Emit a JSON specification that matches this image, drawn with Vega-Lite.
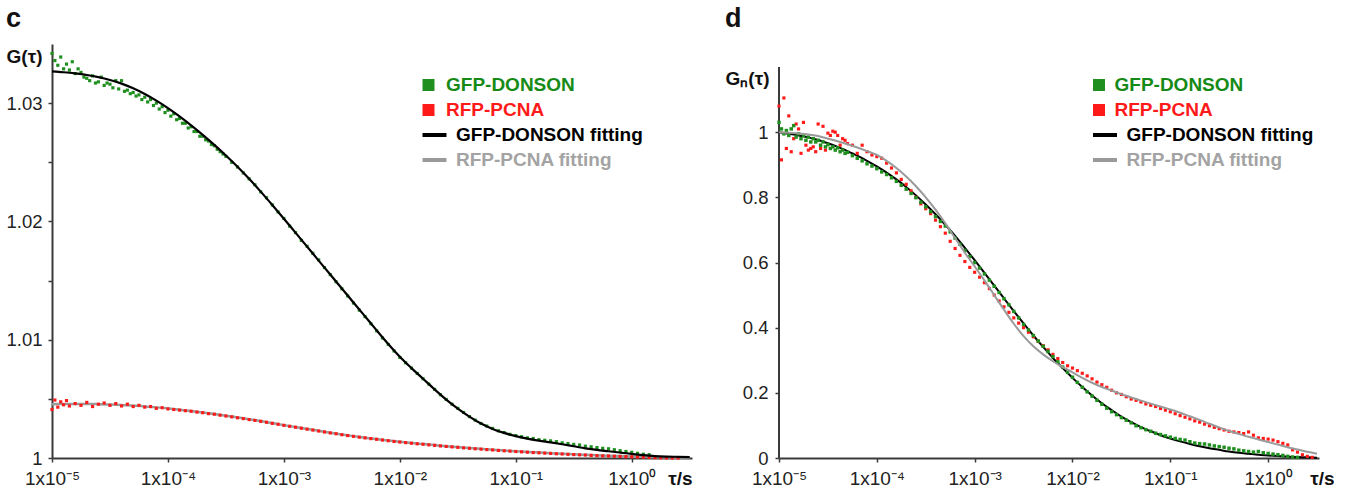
{
  "$schema": "https://vega.github.io/schema/vega-lite/v6.json",
  "background": "white",
  "padding": {"left": 5, "top": 5, "right": 0, "bottom": 0},
  "spacing": 30,
  "config": {
    "font": "Liberation Sans",
    "view": {"stroke": null},
    "axis": {"grid": false, "domainColor": "#3a3a3a", "domainWidth": 2, "tickColor": "#3a3a3a", "tickWidth": 1.5, "tickSize": 4, "labelFont": "Liberation Sans", "labelFontSize": 18.5, "labelColor": "#222222", "titleFont": "Liberation Sans", "titleFontSize": 19, "titleFontWeight": "bold", "titleColor": "#111111"},
    "title": {"font": "Liberation Sans", "fontSize": 27, "fontWeight": "bold", "color": "#111111", "anchor": "start"},
    "legend": {"labelFont": "Liberation Sans", "labelFontSize": 19, "labelFontWeight": "bold", "labelLimit": 400, "padding": 0, "symbolSize": 144, "rowPadding": 5, "labelOffset": 8}
  },
  "resolve": {"scale": {"color": "independent", "x": "independent", "y": "independent"}, "legend": {"color": "independent"}},
  "datasets": {
    "cGf": [
      {"t":1e-5,"g":1.03269},{"t":1.259e-5,"g":1.03261},{"t":1.585e-5,"g":1.03251},{"t":1.995e-5,"g":1.03238},{"t":2.512e-5,"g":1.0322},{"t":3.162e-5,"g":1.03196},{"t":3.981e-5,"g":1.03165},{"t":5.012e-5,"g":1.03125},{"t":6.31e-5,"g":1.03077},{"t":7.943e-5,"g":1.03021},
      {"t":1e-4,"g":1.02958},{"t":1.259e-4,"g":1.02888},{"t":1.585e-4,"g":1.02812},{"t":1.995e-4,"g":1.02732},{"t":2.512e-4,"g":1.02647},{"t":3.162e-4,"g":1.02557},{"t":3.981e-4,"g":1.02462},{"t":5.012e-4,"g":1.0236},{"t":6.31e-4,"g":1.02252},{"t":7.943e-4,"g":1.02139},
      {"t":1e-3,"g":1.02023},{"t":1.259e-3,"g":1.01905},{"t":1.585e-3,"g":1.01787},{"t":1.995e-3,"g":1.01669},{"t":2.512e-3,"g":1.01551},{"t":3.162e-3,"g":1.01433},{"t":3.981e-3,"g":1.01315},{"t":5.012e-3,"g":1.01197},{"t":6.31e-3,"g":1.01079},{"t":7.943e-3,"g":1.00964},
      {"t":1e-2,"g":1.00856},{"t":1.259e-2,"g":1.0076},{"t":1.585e-2,"g":1.0067},{"t":1.995e-2,"g":1.0058},{"t":2.512e-2,"g":1.00494},{"t":3.162e-2,"g":1.00418},{"t":3.981e-2,"g":1.0035},{"t":5.012e-2,"g":1.00291},{"t":6.31e-2,"g":1.00246},{"t":7.943e-2,"g":1.00212},
      {"t":0.1,"g":1.00185},{"t":0.1259,"g":1.00164},{"t":0.1585,"g":1.00147},{"t":0.1995,"g":1.00132},{"t":0.2512,"g":1.00116},{"t":0.3162,"g":1.00099},{"t":0.3981,"g":1.00082},{"t":0.5012,"g":1.00068},{"t":0.631,"g":1.00057},{"t":0.7943,"g":1.00046},
      {"t":1,"g":1.00035},{"t":1.259,"g":1.00024},{"t":1.585,"g":1.00016},{"t":1.995,"g":1.00012},{"t":2.512,"g":1.0001},{"t":3.162,"g":1.00008}
    ],
    "cRf": [
      {"t":1e-5,"g":1.00455},{"t":1.259e-5,"g":1.00456},{"t":1.585e-5,"g":1.00457},{"t":1.995e-5,"g":1.00457},{"t":2.512e-5,"g":1.00455},{"t":3.162e-5,"g":1.00452},{"t":3.981e-5,"g":1.00448},{"t":5.012e-5,"g":1.00443},{"t":6.31e-5,"g":1.00436},{"t":7.943e-5,"g":1.00428},
      {"t":1e-4,"g":1.00419},{"t":1.259e-4,"g":1.00408},{"t":1.585e-4,"g":1.00397},{"t":1.995e-4,"g":1.00385},{"t":2.512e-4,"g":1.00372},{"t":3.162e-4,"g":1.00358},{"t":3.981e-4,"g":1.00343},{"t":5.012e-4,"g":1.00328},{"t":6.31e-4,"g":1.00312},{"t":7.943e-4,"g":1.00295},
      {"t":1e-3,"g":1.00278},{"t":1.259e-3,"g":1.00262},{"t":1.585e-3,"g":1.00246},{"t":1.995e-3,"g":1.0023},{"t":2.512e-3,"g":1.00214},{"t":3.162e-3,"g":1.00199},{"t":3.981e-3,"g":1.00185},{"t":5.012e-3,"g":1.00172},{"t":6.31e-3,"g":1.0016},{"t":7.943e-3,"g":1.00148},
      {"t":1e-2,"g":1.00137},{"t":1.259e-2,"g":1.00127},{"t":1.585e-2,"g":1.00118},{"t":1.995e-2,"g":1.00109},{"t":2.512e-2,"g":1.001},{"t":3.162e-2,"g":1.00092},{"t":3.981e-2,"g":1.00084},{"t":5.012e-2,"g":1.00077},{"t":6.31e-2,"g":1.0007},{"t":7.943e-2,"g":1.00063},
      {"t":0.1,"g":1.00057},{"t":0.1259,"g":1.00051},{"t":0.1585,"g":1.00046},{"t":0.1995,"g":1.00041},{"t":0.2512,"g":1.00036},{"t":0.3162,"g":1.00031},{"t":0.3981,"g":1.00027},{"t":0.5012,"g":1.00023},{"t":0.631,"g":1.00019},{"t":0.7943,"g":1.00016},
      {"t":1,"g":1.00013},{"t":1.259,"g":1.0001},{"t":1.585,"g":1.00007},{"t":1.995,"g":1.00005},{"t":2.512,"g":1.00003},{"t":3.162,"g":1.00002}
    ],
    "cG": [
      {"t":1e-5,"g":1.0342},{"t":1.059e-5,"g":1.0336},{"t":1.122e-5,"g":1.0332},{"t":1.189e-5,"g":1.0339},{"t":1.259e-5,"g":1.0329},{"t":1.334e-5,"g":1.0333},{"t":1.413e-5,"g":1.0328},{"t":1.496e-5,"g":1.0335},{"t":1.585e-5,"g":1.0325},{"t":1.679e-5,"g":1.0329},{"t":1.778e-5,"g":1.0326},{"t":1.884e-5,"g":1.0322},
      {"t":1.995e-5,"g":1.0321},{"t":2.113e-5,"g":1.0319},{"t":2.239e-5,"g":1.0323},{"t":2.371e-5,"g":1.0317},{"t":2.512e-5,"g":1.0318},{"t":2.661e-5,"g":1.0322},{"t":2.818e-5,"g":1.0315},{"t":2.985e-5,"g":1.0317},{"t":3.162e-5,"g":1.0316},{"t":3.35e-5,"g":1.0313},
      {"t":3.548e-5,"g":1.0319},{"t":3.758e-5,"g":1.0312},{"t":3.981e-5,"g":1.0319},{"t":4.217e-5,"g":1.031},{"t":4.467e-5,"g":1.0311},{"t":4.732e-5,"g":1.0308},{"t":5.012e-5,"g":1.0309},{"t":5.309e-5,"g":1.0306},{"t":5.623e-5,"g":1.0307},{"t":5.957e-5,"g":1.0303},
      {"t":6.31e-5,"g":1.0305},{"t":6.683e-5,"g":1.0301},{"t":7.079e-5,"g":1.0303},{"t":7.499e-5,"g":1.0298},{"t":7.943e-5,"g":1.03},{"t":8.414e-5,"g":1.0295},{"t":8.913e-5,"g":1.0297},{"t":9.441e-5,"g":1.0292},{"t":1e-4,"g":1.0294},{"t":1.059e-4,"g":1.0289},
      {"t":1.122e-4,"g":1.0291},{"t":1.189e-4,"g":1.0286},{"t":1.259e-4,"g":1.0287},{"t":1.334e-4,"g":1.0283},{"t":1.413e-4,"g":1.0283},{"t":1.496e-4,"g":1.0279},{"t":1.585e-4,"g":1.028},{"t":1.679e-4,"g":1.0276},{"t":1.778e-4,"g":1.0276},{"t":1.884e-4,"g":1.0272},
      {"t":1.995e-4,"g":1.0272},{"t":2.113e-4,"g":1.0269},{"t":2.239e-4,"g":1.0268},{"t":2.371e-4,"g":1.0265},{"t":2.512e-4,"g":1.0264},{"t":2.661e-4,"g":1.0261},{"t":2.818e-4,"g":1.0259},{"t":2.985e-4,"g":1.0257},{"t":3.162e-4,"g":1.0255},
      {"t":3.548e-4,"g":1.025},{"t":3.981e-4,"g":1.0246},{"t":4.467e-4,"g":1.0241},{"t":5.012e-4,"g":1.0236},{"t":5.623e-4,"g":1.0231},{"t":6.31e-4,"g":1.0225},{"t":7.079e-4,"g":1.022},{"t":7.943e-4,"g":1.0214},{"t":8.913e-4,"g":1.0208},
      {"t":1e-3,"g":1.02025},{"t":1.122e-3,"g":1.0196},{"t":1.259e-3,"g":1.01905},{"t":1.413e-3,"g":1.0184},{"t":1.585e-3,"g":1.0179},{"t":1.778e-3,"g":1.0173},{"t":1.995e-3,"g":1.01675},{"t":2.239e-3,"g":1.0161},{"t":2.512e-3,"g":1.0155},{"t":2.818e-3,"g":1.0149},
      {"t":3.162e-3,"g":1.0143},{"t":3.548e-3,"g":1.0137},{"t":3.981e-3,"g":1.0131},{"t":4.467e-3,"g":1.0125},{"t":5.012e-3,"g":1.01195},{"t":5.623e-3,"g":1.01135},{"t":6.31e-3,"g":1.01075},{"t":7.079e-3,"g":1.01015},{"t":7.943e-3,"g":1.0096},{"t":8.913e-3,"g":1.00905},
      {"t":1e-2,"g":1.0085},{"t":1.122e-2,"g":1.00805},{"t":1.259e-2,"g":1.0076},{"t":1.413e-2,"g":1.00715},{"t":1.585e-2,"g":1.0067},{"t":1.778e-2,"g":1.00625},{"t":1.995e-2,"g":1.0058},{"t":2.239e-2,"g":1.00535},{"t":2.512e-2,"g":1.00495},{"t":2.818e-2,"g":1.00455},
      {"t":3.162e-2,"g":1.0042},{"t":3.548e-2,"g":1.00385},{"t":3.981e-2,"g":1.0035},{"t":4.467e-2,"g":1.0032},{"t":5.012e-2,"g":1.00292},{"t":5.623e-2,"g":1.0027},{"t":6.31e-2,"g":1.0025},{"t":7.079e-2,"g":1.0023},{"t":7.943e-2,"g":1.00215},{"t":8.913e-2,"g":1.002},
      {"t":0.1,"g":1.0019},{"t":0.1122,"g":1.0018},{"t":0.1259,"g":1.0017},{"t":0.1413,"g":1.00165},{"t":0.1585,"g":1.00155},{"t":0.1778,"g":1.0015},{"t":0.1995,"g":1.00145},{"t":0.2239,"g":1.00138},{"t":0.2512,"g":1.00128},{"t":0.2818,"g":1.00122},
      {"t":0.3162,"g":1.00115},{"t":0.3548,"g":1.0011},{"t":0.3981,"g":1.001},{"t":0.4467,"g":1.00095},{"t":0.5012,"g":1.00088},{"t":0.5623,"g":1.00082},{"t":0.631,"g":1.00078},{"t":0.7079,"g":1.0007},{"t":0.7943,"g":1.00062},{"t":0.8913,"g":1.00055},
      {"t":1,"g":1.00048},{"t":1.122,"g":1.0004},{"t":1.259,"g":1.00032},{"t":1.413,"g":1.00028}
    ],
    "cR": [
      {"t":1e-5,"g":1.0041},{"t":1.059e-5,"g":1.0049},{"t":1.122e-5,"g":1.0043},{"t":1.189e-5,"g":1.00475},{"t":1.259e-5,"g":1.0045},{"t":1.334e-5,"g":1.00485},{"t":1.413e-5,"g":1.0044},{"t":1.585e-5,"g":1.0046},{"t":1.778e-5,"g":1.00445},{"t":1.995e-5,"g":1.0047},
      {"t":2.239e-5,"g":1.00435},{"t":2.512e-5,"g":1.00455},{"t":2.818e-5,"g":1.00465},{"t":3.162e-5,"g":1.00445},{"t":3.548e-5,"g":1.0046},{"t":3.981e-5,"g":1.0044},{"t":4.467e-5,"g":1.00455},{"t":5.012e-5,"g":1.00435},{"t":5.623e-5,"g":1.00445},{"t":6.31e-5,"g":1.0043},
      {"t":7.079e-5,"g":1.00435},{"t":7.943e-5,"g":1.0042},{"t":8.913e-5,"g":1.00425},{"t":1e-4,"g":1.00415},{"t":1.122e-4,"g":1.0041},{"t":1.259e-4,"g":1.00405},{"t":1.413e-4,"g":1.004},{"t":1.585e-4,"g":1.00395},{"t":1.778e-4,"g":1.00388},{"t":1.995e-4,"g":1.00383},
      {"t":2.239e-4,"g":1.00375},{"t":2.512e-4,"g":1.0037},{"t":2.818e-4,"g":1.00362},{"t":3.162e-4,"g":1.00355},{"t":3.548e-4,"g":1.00348},{"t":3.981e-4,"g":1.0034},{"t":4.467e-4,"g":1.00333},{"t":5.012e-4,"g":1.00325},{"t":5.623e-4,"g":1.00318},{"t":6.31e-4,"g":1.0031},
      {"t":7.079e-4,"g":1.00302},{"t":7.943e-4,"g":1.00293},{"t":8.913e-4,"g":1.00285},{"t":1e-3,"g":1.00276},{"t":1.122e-3,"g":1.00268},{"t":1.259e-3,"g":1.0026},{"t":1.413e-3,"g":1.00252},{"t":1.585e-3,"g":1.00244},{"t":1.778e-3,"g":1.00236},{"t":1.995e-3,"g":1.00228},
      {"t":2.239e-3,"g":1.0022},{"t":2.512e-3,"g":1.00212},{"t":2.818e-3,"g":1.00205},{"t":3.162e-3,"g":1.00197},{"t":3.548e-3,"g":1.0019},{"t":3.981e-3,"g":1.00183},{"t":4.467e-3,"g":1.00176},{"t":5.012e-3,"g":1.0017},{"t":5.623e-3,"g":1.00164},{"t":6.31e-3,"g":1.00158},
      {"t":7.079e-3,"g":1.00152},{"t":7.943e-3,"g":1.00146},{"t":8.913e-3,"g":1.0014},{"t":1e-2,"g":1.00135},{"t":1.122e-2,"g":1.0013},{"t":1.259e-2,"g":1.00125},{"t":1.413e-2,"g":1.0012},{"t":1.585e-2,"g":1.00116},{"t":1.778e-2,"g":1.00111},{"t":1.995e-2,"g":1.00107},
      {"t":2.239e-2,"g":1.00102},{"t":2.512e-2,"g":1.00098},{"t":2.818e-2,"g":1.00094},{"t":3.162e-2,"g":1.0009},{"t":3.548e-2,"g":1.00086},{"t":3.981e-2,"g":1.00082},{"t":4.467e-2,"g":1.00078},{"t":5.012e-2,"g":1.00075},{"t":5.623e-2,"g":1.00071},{"t":6.31e-2,"g":1.00068},
      {"t":7.079e-2,"g":1.00064},{"t":7.943e-2,"g":1.00061},{"t":8.913e-2,"g":1.00058},{"t":0.1,"g":1.00055},{"t":0.1122,"g":1.00052},{"t":0.1259,"g":1.00049},{"t":0.1413,"g":1.00046},{"t":0.1585,"g":1.00044},{"t":0.1778,"g":1.00041},{"t":0.1995,"g":1.00039},
      {"t":0.2239,"g":1.00036},{"t":0.2512,"g":1.00034},{"t":0.2818,"g":1.00031},{"t":0.3162,"g":1.00029},{"t":0.3548,"g":1.00027},{"t":0.3981,"g":1.00025},{"t":0.4467,"g":1.00022},{"t":0.5012,"g":1.0002},{"t":0.5623,"g":1.00018},{"t":0.631,"g":1.00017},
      {"t":0.7079,"g":1.00015},{"t":0.7943,"g":1.00013},{"t":0.8913,"g":1.00011},{"t":1,"g":1.0001},{"t":1.122,"g":1.00008},{"t":1.259,"g":1.00006},{"t":1.413,"g":1.00005},{"t":1.585,"g":1.00003},{"t":1.778,"g":1.00002},{"t":1.995,"g":1.00001},{"t":2.239,"g":1.0},{"t":2.512,"g":1.0}
    ],
    "dGf": [
      {"t":1e-5,"g":1.0},{"t":1.259e-5,"g":0.995},{"t":1.585e-5,"g":0.99},{"t":1.995e-5,"g":0.984},{"t":2.512e-5,"g":0.976},{"t":3.162e-5,"g":0.966},{"t":3.981e-5,"g":0.955},{"t":5.012e-5,"g":0.942},{"t":6.31e-5,"g":0.928},{"t":7.943e-5,"g":0.912},
      {"t":1e-4,"g":0.895},{"t":1.259e-4,"g":0.876},{"t":1.585e-4,"g":0.855},{"t":1.995e-4,"g":0.832},{"t":2.512e-4,"g":0.806},{"t":3.162e-4,"g":0.778},{"t":3.981e-4,"g":0.748},{"t":5.012e-4,"g":0.716},{"t":6.31e-4,"g":0.682},{"t":7.943e-4,"g":0.645},
      {"t":1e-3,"g":0.607},{"t":1.259e-3,"g":0.568},{"t":1.585e-3,"g":0.529},{"t":1.995e-3,"g":0.49},{"t":2.512e-3,"g":0.451},{"t":3.162e-3,"g":0.413},{"t":3.981e-3,"g":0.376},{"t":5.012e-3,"g":0.341},{"t":6.31e-3,"g":0.307},{"t":7.943e-3,"g":0.276},
      {"t":1e-2,"g":0.246},{"t":1.259e-2,"g":0.218},{"t":1.585e-2,"g":0.192},{"t":1.995e-2,"g":0.168},{"t":2.512e-2,"g":0.147},{"t":3.162e-2,"g":0.127},{"t":3.981e-2,"g":0.11},{"t":5.012e-2,"g":0.095},{"t":6.31e-2,"g":0.082},{"t":7.943e-2,"g":0.07},
      {"t":0.1,"g":0.06},{"t":0.1259,"g":0.051},{"t":0.1585,"g":0.043},{"t":0.1995,"g":0.036},{"t":0.2512,"g":0.03},{"t":0.3162,"g":0.025},{"t":0.3981,"g":0.02},{"t":0.5012,"g":0.016},{"t":0.631,"g":0.013},{"t":0.7943,"g":0.01},
      {"t":1,"g":0.008},{"t":1.259,"g":0.006},{"t":1.585,"g":0.004},{"t":1.995,"g":0.003},{"t":2.512,"g":0.002},{"t":3.162,"g":0.001}
    ],
    "dRf": [
      {"t":1e-5,"g":1.0},{"t":1.259e-5,"g":0.998},{"t":1.585e-5,"g":0.996},{"t":1.995e-5,"g":0.993},{"t":2.512e-5,"g":0.988},{"t":3.162e-5,"g":0.98},{"t":3.981e-5,"g":0.972},{"t":5.012e-5,"g":0.963},{"t":6.31e-5,"g":0.953},{"t":7.943e-5,"g":0.942},
      {"t":1e-4,"g":0.93},{"t":1.259e-4,"g":0.912},{"t":1.585e-4,"g":0.89},{"t":1.995e-4,"g":0.864},{"t":2.512e-4,"g":0.834},{"t":3.162e-4,"g":0.8},{"t":3.981e-4,"g":0.762},{"t":5.012e-4,"g":0.72},{"t":6.31e-4,"g":0.675},{"t":7.943e-4,"g":0.63},
      {"t":1e-3,"g":0.588},{"t":1.259e-3,"g":0.545},{"t":1.585e-3,"g":0.5},{"t":1.995e-3,"g":0.455},{"t":2.512e-3,"g":0.412},{"t":3.162e-3,"g":0.374},{"t":3.981e-3,"g":0.343},{"t":5.012e-3,"g":0.318},{"t":6.31e-3,"g":0.297},{"t":7.943e-3,"g":0.279},
      {"t":1e-2,"g":0.263},{"t":1.259e-2,"g":0.246},{"t":1.585e-2,"g":0.231},{"t":1.995e-2,"g":0.218},{"t":2.512e-2,"g":0.207},{"t":3.162e-2,"g":0.196},{"t":3.981e-2,"g":0.186},{"t":5.012e-2,"g":0.176},{"t":6.31e-2,"g":0.167},{"t":7.943e-2,"g":0.158},
      {"t":0.1,"g":0.149},{"t":0.1259,"g":0.139},{"t":0.1585,"g":0.128},{"t":0.1995,"g":0.117},{"t":0.2512,"g":0.105},{"t":0.3162,"g":0.094},{"t":0.3981,"g":0.083},{"t":0.5012,"g":0.074},{"t":0.631,"g":0.065},{"t":0.7943,"g":0.057},
      {"t":1,"g":0.049},{"t":1.259,"g":0.041},{"t":1.585,"g":0.033},{"t":1.995,"g":0.026},{"t":2.512,"g":0.019},{"t":3.162,"g":0.013}
    ],
    "dG": [
      {"t":1e-5,"g":1.03},{"t":1.059e-5,"g":1.01},{"t":1.122e-5,"g":0.995},{"t":1.189e-5,"g":1.005},{"t":1.259e-5,"g":0.99},{"t":1.334e-5,"g":1.01},{"t":1.413e-5,"g":1.02},{"t":1.496e-5,"g":0.985},{"t":1.585e-5,"g":0.995},{"t":1.679e-5,"g":0.98},
      {"t":1.778e-5,"g":0.99},{"t":1.884e-5,"g":0.975},{"t":1.995e-5,"g":0.985},{"t":2.113e-5,"g":0.97},{"t":2.239e-5,"g":0.98},{"t":2.371e-5,"g":0.97},{"t":2.512e-5,"g":0.975},{"t":2.661e-5,"g":0.96},{"t":2.818e-5,"g":0.97},{"t":2.985e-5,"g":0.955},
      {"t":3.162e-5,"g":0.962},{"t":3.35e-5,"g":0.95},{"t":3.548e-5,"g":0.955},{"t":3.758e-5,"g":0.945},{"t":3.981e-5,"g":0.952},{"t":4.217e-5,"g":0.94},{"t":4.467e-5,"g":0.945},{"t":4.732e-5,"g":0.935},{"t":5.012e-5,"g":0.938},{"t":5.623e-5,"g":0.928},
      {"t":6.31e-5,"g":0.92},{"t":7.079e-5,"g":0.912},{"t":7.943e-5,"g":0.903},{"t":8.913e-5,"g":0.896},{"t":1e-4,"g":0.888},{"t":1.122e-4,"g":0.878},{"t":1.259e-4,"g":0.87},{"t":1.413e-4,"g":0.86},{"t":1.585e-4,"g":0.849},{"t":1.778e-4,"g":0.837},
      {"t":1.995e-4,"g":0.825},{"t":2.239e-4,"g":0.812},{"t":2.512e-4,"g":0.799},{"t":2.818e-4,"g":0.785},{"t":3.162e-4,"g":0.771},{"t":3.548e-4,"g":0.756},{"t":3.981e-4,"g":0.741},{"t":4.467e-4,"g":0.726},{"t":5.012e-4,"g":0.712},{"t":5.623e-4,"g":0.694},
      {"t":6.31e-4,"g":0.675},{"t":7.079e-4,"g":0.656},{"t":7.943e-4,"g":0.637},{"t":8.913e-4,"g":0.618},{"t":1e-3,"g":0.6},{"t":1.122e-3,"g":0.583},{"t":1.259e-3,"g":0.565},{"t":1.413e-3,"g":0.546},{"t":1.585e-3,"g":0.527},{"t":1.778e-3,"g":0.508},
      {"t":1.995e-3,"g":0.489},{"t":2.239e-3,"g":0.47},{"t":2.512e-3,"g":0.45},{"t":2.818e-3,"g":0.43},{"t":3.162e-3,"g":0.41},{"t":3.548e-3,"g":0.393},{"t":3.981e-3,"g":0.376},{"t":4.467e-3,"g":0.359},{"t":5.012e-3,"g":0.343},{"t":5.623e-3,"g":0.327},
      {"t":6.31e-3,"g":0.311},{"t":7.079e-3,"g":0.295},{"t":7.943e-3,"g":0.279},{"t":8.913e-3,"g":0.263},{"t":1e-2,"g":0.248},{"t":1.122e-2,"g":0.232},{"t":1.259e-2,"g":0.217},{"t":1.413e-2,"g":0.203},{"t":1.585e-2,"g":0.19},{"t":1.778e-2,"g":0.177},
      {"t":1.995e-2,"g":0.165},{"t":2.239e-2,"g":0.153},{"t":2.512e-2,"g":0.142},{"t":2.818e-2,"g":0.133},{"t":3.162e-2,"g":0.124},{"t":3.548e-2,"g":0.116},{"t":3.981e-2,"g":0.108},{"t":4.467e-2,"g":0.099},{"t":5.012e-2,"g":0.093},{"t":5.623e-2,"g":0.087},
      {"t":6.31e-2,"g":0.082},{"t":7.079e-2,"g":0.076},{"t":7.943e-2,"g":0.072},{"t":8.913e-2,"g":0.068},{"t":0.1,"g":0.064},{"t":0.1122,"g":0.06},{"t":0.1259,"g":0.057},{"t":0.1413,"g":0.055},{"t":0.1585,"g":0.05},{"t":0.1778,"g":0.046},
      {"t":0.1995,"g":0.044},{"t":0.2239,"g":0.043},{"t":0.2512,"g":0.04},{"t":0.2818,"g":0.037},{"t":0.3162,"g":0.035},{"t":0.3548,"g":0.033},{"t":0.3981,"g":0.03},{"t":0.4467,"g":0.028},{"t":0.5012,"g":0.024},{"t":0.5623,"g":0.022},
      {"t":0.631,"g":0.02},{"t":0.7079,"g":0.018},{"t":0.7943,"g":0.02},{"t":0.8913,"g":0.016},{"t":1,"g":0.014},{"t":1.122,"g":0.012},{"t":1.259,"g":0.01},{"t":1.413,"g":0.008},{"t":1.585,"g":0.005},{"t":1.778,"g":0.003},{"t":1.995,"g":0.002}
    ],
    "dR": [
      {"t":1e-5,"g":1.08},{"t":1.059e-5,"g":0.915},{"t":1.122e-5,"g":1.105},{"t":1.189e-5,"g":0.95},{"t":1.259e-5,"g":1.05},{"t":1.334e-5,"g":0.94},{"t":1.413e-5,"g":0.98},{"t":1.496e-5,"g":1.025},{"t":1.585e-5,"g":1.01},{"t":1.679e-5,"g":0.935},
      {"t":1.778e-5,"g":1.03},{"t":1.884e-5,"g":0.96},{"t":1.995e-5,"g":0.945},{"t":2.113e-5,"g":0.95},{"t":2.239e-5,"g":0.955},{"t":2.371e-5,"g":0.94},{"t":2.512e-5,"g":1.025},{"t":2.661e-5,"g":0.95},{"t":2.818e-5,"g":1.018},{"t":2.985e-5,"g":0.945},
      {"t":3.162e-5,"g":0.997},{"t":3.35e-5,"g":0.99},{"t":3.548e-5,"g":1.003},{"t":3.758e-5,"g":1.0},{"t":3.981e-5,"g":0.99},{"t":4.217e-5,"g":0.96},{"t":4.467e-5,"g":0.98},{"t":4.732e-5,"g":0.975},{"t":5.012e-5,"g":0.965},{"t":5.623e-5,"g":0.96},
      {"t":6.31e-5,"g":0.935},{"t":7.079e-5,"g":0.96},{"t":7.943e-5,"g":0.94},{"t":8.913e-5,"g":0.93},{"t":1e-4,"g":0.925},{"t":1.122e-4,"g":0.92},{"t":1.259e-4,"g":0.905},{"t":1.413e-4,"g":0.89},{"t":1.585e-4,"g":0.875},{"t":1.778e-4,"g":0.855},
      {"t":1.995e-4,"g":0.84},{"t":2.239e-4,"g":0.82},{"t":2.512e-4,"g":0.8},{"t":2.818e-4,"g":0.78},{"t":3.162e-4,"g":0.765},{"t":3.548e-4,"g":0.75},{"t":3.981e-4,"g":0.73},{"t":4.467e-4,"g":0.71},{"t":5.012e-4,"g":0.69},{"t":5.623e-4,"g":0.665},
      {"t":6.31e-4,"g":0.643},{"t":7.079e-4,"g":0.622},{"t":7.943e-4,"g":0.603},{"t":8.913e-4,"g":0.585},{"t":1e-3,"g":0.57},{"t":1.122e-3,"g":0.555},{"t":1.259e-3,"g":0.538},{"t":1.413e-3,"g":0.52},{"t":1.585e-3,"g":0.5},{"t":1.778e-3,"g":0.482},
      {"t":1.995e-3,"g":0.464},{"t":2.239e-3,"g":0.447},{"t":2.512e-3,"g":0.43},{"t":2.818e-3,"g":0.414},{"t":3.162e-3,"g":0.4},{"t":3.548e-3,"g":0.386},{"t":3.981e-3,"g":0.372},{"t":4.467e-3,"g":0.358},{"t":5.012e-3,"g":0.345},{"t":5.623e-3,"g":0.332},
      {"t":6.31e-3,"g":0.318},{"t":7.079e-3,"g":0.305},{"t":7.943e-3,"g":0.293},{"t":8.913e-3,"g":0.283},{"t":1e-2,"g":0.276},{"t":1.122e-2,"g":0.268},{"t":1.259e-2,"g":0.26},{"t":1.413e-2,"g":0.252},{"t":1.585e-2,"g":0.243},{"t":1.778e-2,"g":0.233},
      {"t":1.995e-2,"g":0.225},{"t":2.239e-2,"g":0.217},{"t":2.512e-2,"g":0.208},{"t":2.818e-2,"g":0.2},{"t":3.162e-2,"g":0.195},{"t":3.548e-2,"g":0.188},{"t":3.981e-2,"g":0.181},{"t":4.467e-2,"g":0.177},{"t":5.012e-2,"g":0.172},{"t":5.623e-2,"g":0.166},
      {"t":6.31e-2,"g":0.162},{"t":7.079e-2,"g":0.158},{"t":7.943e-2,"g":0.152},{"t":8.913e-2,"g":0.147},{"t":0.1,"g":0.142},{"t":0.1122,"g":0.136},{"t":0.1259,"g":0.13},{"t":0.1413,"g":0.125},{"t":0.1585,"g":0.12},{"t":0.1778,"g":0.114},
      {"t":0.1995,"g":0.11},{"t":0.2239,"g":0.104},{"t":0.2512,"g":0.099},{"t":0.2818,"g":0.094},{"t":0.3162,"g":0.09},{"t":0.3548,"g":0.086},{"t":0.3981,"g":0.082},{"t":0.4467,"g":0.08},{"t":0.5012,"g":0.078},{"t":0.5623,"g":0.075},
      {"t":0.631,"g":0.08},{"t":0.7079,"g":0.07},{"t":0.7943,"g":0.062},{"t":0.8913,"g":0.06},{"t":1,"g":0.058},{"t":1.122,"g":0.055},{"t":1.259,"g":0.05},{"t":1.413,"g":0.045},{"t":1.585,"g":0.04},{"t":1.778,"g":0.025},
      {"t":1.995,"g":0.018},{"t":2.239,"g":0.01},{"t":2.512,"g":0.005},{"t":2.818,"g":0.002}
    ],
    "dAxis": [{"lo": 0, "hi": 1.2}]
  },
  "hconcat": [
    {
      "width": 640,
      "height": 414,
      "title": {"text": "c", "offset": 11},
      "layer": [
        {
          "data": {"name": "cRf"},
          "mark": {"type": "line", "strokeWidth": 2.5, "interpolate": "monotone"},
          "encoding": {
            "x": {"field": "t", "type": "quantitative", "scale": {"type": "log", "domain": [1e-5, 3.31], "nice": false},
              "axis": {"values": [1e-5, 1e-4, 1e-3, 1e-2, 1e-1, 1], "labelExpr": "'1x10' + (datum.value > 0.5 ? '⁰' : datum.value > 0.05 ? '⁻¹' : datum.value > 0.005 ? '⁻²' : datum.value > 0.0005 ? '⁻³' : datum.value > 0.00005 ? '⁻⁴' : '⁻⁵')", "labelFlush": false, "labelOverlap": false, "labelFontSize": 19, "labelPadding": 7, "title": "τ/s", "titleX": 640, "titleY": 11, "titleAlign": "right", "titleBaseline": "top"}},
            "y": {"field": "g", "type": "quantitative", "scale": {"domain": [1, 1.035], "nice": false, "zero": false},
              "axis": {"values": [1, 1.005, 1.01, 1.015, 1.02, 1.025, 1.03], "labelExpr": "round(datum.value*1000)%10===0 ? format(datum.value,'.2~f') : ''", "labelPadding": 6, "title": "G(τ)", "titleAngle": 0, "titleAlign": "right", "titleBaseline": "middle", "titleX": -10, "titleY": 12}},
            "color": {"datum": "RFP-PCNA fitting",
              "scale": {"domain": ["GFP-DONSON", "RFP-PCNA", "GFP-DONSON fitting", "RFP-PCNA fitting"], "range": ["#1f8f1f", "#ff1a1a", "#000000", "#9a9a9a"]},
              "legend": {"orient": "none", "legendX": 367, "legendY": 31.5, "title": null,
                "encode": {
                  "symbols": {"update": {"shape": {"signal": "indexof(datum.value,'fitting') > 0 ? 'M-1,-0.33H3V0.33H-1Z' : 'square'"}, "fill": {"signal": "datum.value==='GFP-DONSON' ? '#168a16' : datum.value==='RFP-PCNA' ? '#ff1a1a' : datum.value==='GFP-DONSON fitting' ? '#000000' : '#9a9a9a'"}, "stroke": {"value": "transparent"}, "strokeWidth": {"value": 0}, "opacity": {"value": 1}}},
                  "labels": {"update": {"fill": {"signal": "datum.value==='GFP-DONSON' ? '#168a16' : datum.value==='RFP-PCNA' ? '#ff1a1a' : datum.value==='GFP-DONSON fitting' ? '#000000' : '#a3a3a3'"}, "dx": {"signal": "indexof(datum.value,'fitting') > 0 ? 10 : 0"}}}
                }}}
          }
        },
        {
          "data": {"name": "cR"},
          "mark": {"type": "point", "shape": "square", "filled": true, "size": 10, "opacity": 1},
          "encoding": {"x": {"field": "t", "type": "quantitative"}, "y": {"field": "g", "type": "quantitative"}, "color": {"datum": "RFP-PCNA"}}
        },
        {
          "data": {"name": "cG"},
          "mark": {"type": "point", "shape": "square", "filled": true, "size": 10, "opacity": 1},
          "encoding": {"x": {"field": "t", "type": "quantitative"}, "y": {"field": "g", "type": "quantitative"}, "color": {"datum": "GFP-DONSON"}}
        },
        {
          "data": {"name": "cGf"},
          "mark": {"type": "line", "strokeWidth": 2.2, "interpolate": "monotone"},
          "encoding": {"x": {"field": "t", "type": "quantitative"}, "y": {"field": "g", "type": "quantitative"}, "color": {"datum": "GFP-DONSON fitting"}}
        }
      ]
    },
    {
      "width": 540,
      "height": 414,
      "title": {"text": "d", "offset": 11},
      "layer": [
        {
          "data": {"name": "dAxis"},
          "mark": {"type": "rule", "color": "#3a3a3a", "strokeWidth": 2},
          "encoding": {
            "x": {"datum": 1e-5, "type": "quantitative"},
            "y": {"field": "lo", "type": "quantitative"},
            "y2": {"field": "hi"}
          }
        },
        {
          "data": {"name": "dGf"},
          "mark": {"type": "line", "strokeWidth": 2, "interpolate": "monotone"},
          "encoding": {
            "x": {"field": "t", "type": "quantitative", "scale": {"type": "log", "domain": [1e-5, 3.31], "nice": false},
              "axis": {"values": [1e-5, 1e-4, 1e-3, 1e-2, 1e-1, 1], "labelExpr": "'1x10' + (datum.value > 0.5 ? '⁰' : datum.value > 0.05 ? '⁻¹' : datum.value > 0.005 ? '⁻²' : datum.value > 0.0005 ? '⁻³' : datum.value > 0.00005 ? '⁻⁴' : '⁻⁵')", "labelFlush": false, "labelOverlap": false, "labelFontSize": 19, "labelPadding": 7, "title": "τ/s", "titleX": 555, "titleY": 11, "titleAlign": "right", "titleBaseline": "top"}},
            "y": {"field": "g", "type": "quantitative", "scale": {"domain": [0, 1.2706], "nice": false},
              "axis": {"values": [0, 0.2, 0.4, 0.6, 0.8, 1], "domain": false, "labelExpr": "format(datum.value,'.1~f')", "labelPadding": 7, "title": "Gₙ(τ)", "titleAngle": 0, "titleAlign": "right", "titleBaseline": "middle", "titleX": -10, "titleY": 34}},
            "color": {"datum": "GFP-DONSON fitting",
              "scale": {"domain": ["GFP-DONSON", "RFP-PCNA", "GFP-DONSON fitting", "RFP-PCNA fitting"], "range": ["#1f8f1f", "#ff1a1a", "#000000", "#9a9a9a"]},
              "legend": {"orient": "none", "legendX": 310.5, "legendY": 31.5, "title": null, "labelOffset": 6,
                "encode": {
                  "symbols": {"update": {"shape": {"signal": "indexof(datum.value,'fitting') > 0 ? 'M-1,-0.33H3V0.33H-1Z' : 'square'"}, "fill": {"signal": "datum.value==='GFP-DONSON' ? '#168a16' : datum.value==='RFP-PCNA' ? '#ff1a1a' : datum.value==='GFP-DONSON fitting' ? '#000000' : '#9a9a9a'"}, "stroke": {"value": "transparent"}, "strokeWidth": {"value": 0}, "opacity": {"value": 1}}},
                  "labels": {"update": {"fill": {"signal": "datum.value==='GFP-DONSON' ? '#168a16' : datum.value==='RFP-PCNA' ? '#ff1a1a' : datum.value==='GFP-DONSON fitting' ? '#000000' : '#a3a3a3'"}, "dx": {"signal": "indexof(datum.value,'fitting') > 0 ? 12 : 0"}}}
                }}}
          }
        },
        {
          "data": {"name": "dR"},
          "mark": {"type": "point", "shape": "square", "filled": true, "size": 10, "opacity": 1},
          "encoding": {"x": {"field": "t", "type": "quantitative"}, "y": {"field": "g", "type": "quantitative"}, "color": {"datum": "RFP-PCNA"}}
        },
        {
          "data": {"name": "dG"},
          "mark": {"type": "point", "shape": "square", "filled": true, "size": 12, "opacity": 1},
          "encoding": {"x": {"field": "t", "type": "quantitative"}, "y": {"field": "g", "type": "quantitative"}, "color": {"datum": "GFP-DONSON"}}
        },
        {
          "data": {"name": "dRf"},
          "mark": {"type": "line", "strokeWidth": 2, "interpolate": "monotone"},
          "encoding": {"x": {"field": "t", "type": "quantitative"}, "y": {"field": "g", "type": "quantitative"}, "color": {"datum": "RFP-PCNA fitting"}}
        }
      ]
    }
  ]
}
